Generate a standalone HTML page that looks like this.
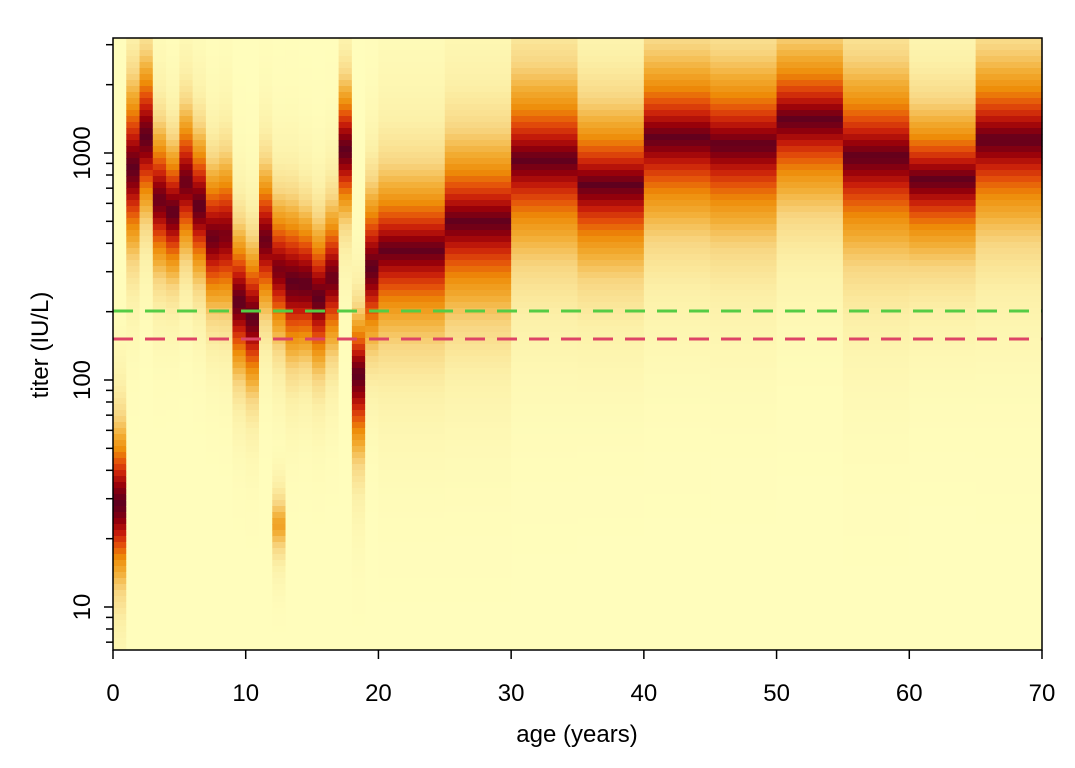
<!DOCTYPE html>
<html><head><meta charset="utf-8"><style>body{margin:0;background:#fff}svg{display:block}text{font-family:"Liberation Sans",sans-serif;fill:#000}</style></head>
<body><svg id="s" width="1075" height="768" xmlns="http://www.w3.org/2000/svg"><g id="hm"></g><g id="ov"></g></svg>
<script>
const X0=113,X1=1042,Y0=38,Y1=650;
const ax=a=>X0+(X1-X0)*a/70;
const ly=v=>153-(Math.log10(v)-3)*227;
const stops=[[0,[255,253,188]],[0.12,[252,240,168]],[0.25,[248,214,130]],[0.38,[242,172,50]],[0.5,[238,140,8]],[0.62,[228,80,10]],[0.74,[200,30,10]],[0.86,[150,0,10]],[1,[95,0,30]]];
function col(t){t=Math.max(0,Math.min(1,t));for(let i=1;i<stops.length;i++){if(t<=stops[i][0]){const a=stops[i-1],b=stops[i],f=(t-a[0])/(b[0]-a[0]);return 'rgb('+a[1].map((c,k)=>Math.round(c+(b[1][k]-c)*f)).join(',')+')';}}return 'rgb(95,0,30)';}
// [a0,a1,center,scale,peak,power,downScale]
const cols=[
[0,1,504,70,1,1.4,1],[1,2,168,75,1,1.4,1],[2,3,137,70,1,1.4,1],[3,4,200,65,0.97,1.4,1],[4,5,212,60,1,1.4,1],[5,6,182,65,0.97,1.4,1],[6,7,206,65,1,1.4,1],[7,8,238,65,0.97,1.4,1],[8,9,235,70,0.93,1.4,1],[9,10,302,65,1,1.4,1],
[10,11,318,65,1,1.4,1],[11,12,240,65,0.97,1.4,1],[12,13,270,65,0.93,1.4,1],[13,14,282,70,1,1.4,1],[14,15,284,65,1,1.4,1],[15,16,298,65,1,1.4,1],[16,17,278,65,0.97,1.4,1],[17,18,150,60,1,1.4,1],[18,19,375,55,1,1.4,1.3],[19,20,268,70,1,1.4,1],
[20,25,250,65,1,1.1,1.1],[25,30,222,70,1,1.1,1.1],[30,35,160,72,1,1.1,1.1],[35,40,185,65,1,1.1,1.1],[40,45,138,70,1,1.1,1.1],[45,50,145,70,1,1.1,1.1],[50,55,120,65,1,1.1,1.1],[55,60,157,75,1,1.1,1.1],[60,65,180,60,1,1.1,1.1],[65,70,140,70,1,1.1,1.1]];
let h='';
cols.forEach(c=>{const x=ax(c[0]),w=ax(c[1])-x;
 for(let y=Y0;y<Y1;y+=6){const d=y+3-c[2];const s=d>0?c[3]*c[6]:c[3];
  let t=c[4]*Math.exp(-Math.pow(Math.abs(d)/s,c[5]));
  if(c[0]==12){const d2=y+3-525;t=Math.max(t,0.42*Math.exp(-Math.pow(Math.abs(d2)/35,1.4)));}
  h+=`<rect x="${x.toFixed(2)}" y="${y}" width="${(w+0.6).toFixed(2)}" height="${Math.min(6.5,Y1-y)}" fill="${col(t)}"/>`;}});
document.getElementById('hm').innerHTML=h;
let o='';
o+=`<line x1="${X0}" y1="311" x2="${X1}" y2="311" stroke="#55cc44" stroke-width="3" stroke-dasharray="20 12"/>`;
o+=`<line x1="${X0}" y1="339" x2="${X1}" y2="339" stroke="#dd4466" stroke-width="3" stroke-dasharray="20 12"/>`;
o+=`<rect x="${X0}" y="${Y0}" width="${X1-X0}" height="${Y1-Y0}" fill="none" stroke="#000" stroke-width="1.5"/>`;
for(let a=0;a<=70;a+=10){const x=ax(a);o+=`<line x1="${x}" y1="${Y1}" x2="${x}" y2="${Y1+9}" stroke="#000" stroke-width="1.5"/><text x="${x}" y="701" font-size="24" text-anchor="middle">${a}</text>`;}
for(let e=0;e<4;e++)for(let m=1;m<10;m++){const v=m*Math.pow(10,e);const y=ly(v);if(y<Y0||y>Y1)continue;const L=m==1?9:7;o+=`<line x1="${X0}" y1="${y}" x2="${X0-L}" y2="${y}" stroke="#000" stroke-width="1.5"/>`;}
[10,100,1000].forEach(v=>{const y=ly(v);o+=`<text transform="translate(90,${y}) rotate(-90)" font-size="24" text-anchor="middle">${v}</text>`;});
o+=`<text x="577" y="742" font-size="24" text-anchor="middle">age (years)</text>`;
o+=`<text transform="translate(48,345) rotate(-90)" font-size="24" text-anchor="middle">titer (IU/L)</text>`;
document.getElementById('ov').innerHTML=o;
</script></body></html>
